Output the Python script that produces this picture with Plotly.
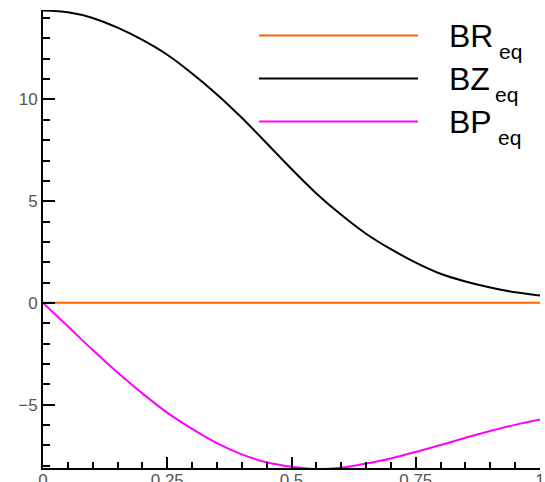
import plotly.graph_objects as go

# ---- data ----
x_vals = [0.00, 0.05, 0.10, 0.15, 0.20, 0.25, 0.30, 0.35, 0.40, 0.45, 0.50,
          0.55, 0.60, 0.65, 0.70, 0.75, 0.80, 0.85, 0.90, 0.95, 1.00]
br_eq = [0.0] * len(x_vals)
bz_eq = [14.37, 14.29, 14.01, 13.53, 12.93, 12.20, 11.28, 10.25, 9.10, 7.85, 6.58,
         5.38, 4.33, 3.40, 2.64, 1.98, 1.43, 1.05, 0.76, 0.52, 0.36]
bp_eq = [0.0, -1.15, -2.32, -3.42, -4.45, -5.40, -6.20, -6.90, -7.45, -7.84, -8.06,
         -8.17, -8.11, -7.90, -7.65, -7.33, -6.99, -6.63, -6.30, -6.00, -5.74]
series_names = ["BR", "BZ", "BP"]
series_sub = "eq"
y_tickvals = [-5, 0, 5, 10]
x_tickvals = [0, 0.25, 0.5, 0.75, 1]
x_ticktext = ["0", "0.25", "0.5", "0.75", "1"]

colors = ["#FF6000", "#000000", "#FF00FF"]
widths = [2, 2, 2]

W, H = 545, 482
ML, MR, MT, MB = 43, 5, 10, 14
PW, PH = W - ML - MR, H - MT - MB

def px2paper_x(px):
    return (px - ML) / PW

def px2paper_y(py):
    return (H - MB - py) / PH

fig = go.Figure()
for name, ys, c, w in zip(series_names, [br_eq, bz_eq, bp_eq], colors, widths):
    fig.add_trace(go.Scatter(x=x_vals, y=ys, mode="lines", name=name + series_sub,
                             line=dict(color=c, width=w, shape="spline", smoothing=0.8),
                             showlegend=False, hoverinfo="skip"))

# custom legend
leg_rows_y = [35.5, 78.5, 121.5]
eq_x = [498, 494, 497]
shapes = []
annots = []
for i, (name, c) in enumerate(zip(series_names, colors)):
    yy = px2paper_y(leg_rows_y[i])
    shapes.append(dict(type="line", xref="paper", yref="paper",
                       x0=px2paper_x(259), x1=px2paper_x(418), y0=yy, y1=yy,
                       line=dict(color=c, width=2)))
    annots.append(dict(text=name, xref="paper", yref="paper",
                       x=px2paper_x(447), y=yy, xanchor="left", yanchor="middle",
                       showarrow=False,
                       font=dict(family="Liberation Sans, Arial", size=32, color="black")))
    annots.append(dict(text=series_sub, xref="paper", yref="paper",
                       x=px2paper_x(eq_x[i] - 1), y=px2paper_y(leg_rows_y[i] + 16),
                       xanchor="left", yanchor="middle", showarrow=False,
                       font=dict(family="Liberation Sans, Arial", size=21, color="black")))

tickfont = dict(family="Liberation Sans, Arial", size=17, color="#555555")

fig.update_layout(
    width=W, height=H,
    margin=dict(l=ML, r=MR, t=MT, b=MB, pad=0, autoexpand=False),
    paper_bgcolor="white", plot_bgcolor="white",
    shapes=shapes, annotations=annots,
    xaxis=dict(range=[0, 1], showgrid=False, zeroline=False, automargin=False,
               showline=True, linecolor="black", linewidth=2,
               ticks="inside", ticklen=11, tickwidth=2, tickcolor="black",
               tickvals=x_tickvals, ticktext=x_ticktext, tickfont=tickfont,
               ticklabelstandoff=-4,
               minor=dict(dtick=0.05, tick0=0, ticks="inside", ticklen=6,
                          tickwidth=1.5, tickcolor="black", showgrid=False)),
    yaxis=dict(range=[-8.12, 14.4], showgrid=False, zeroline=False, automargin=False,
               showline=True, linecolor="black", linewidth=2,
               ticks="inside", ticklen=12, tickwidth=2, tickcolor="black",
               tickvals=y_tickvals, tickfont=tickfont,
               minor=dict(dtick=1, tick0=0, ticks="inside", ticklen=7,
                          tickwidth=1.5, tickcolor="black", showgrid=False)),
)

fig.write_html("out.html", config={"displayModeBar": False})
